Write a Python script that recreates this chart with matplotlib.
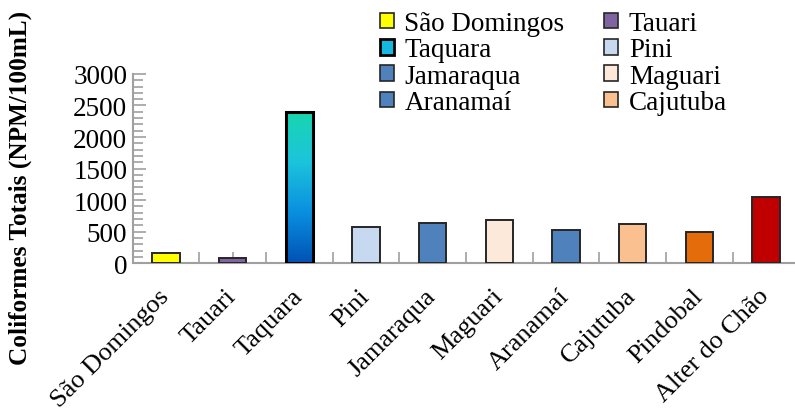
import numpy as np
import matplotlib
matplotlib.use("Agg")
import matplotlib.pyplot as plt
from matplotlib.patches import Rectangle
from matplotlib.colors import LinearSegmentedColormap
from matplotlib.ticker import MultipleLocator

plt.rcParams['font.family'] = ['Liberation Serif', 'DejaVu Serif']

sites = ["São Domingos", "Tauari", "Taquara", "Pini", "Jamaraqua",
         "Maguari", "Aranamaí", "Cajutuba", "Pindobal", "Alter do Chão"]
coliforms = [160, 80, 2400, 580, 640, 685, 520, 620, 500, 1045]
bar_colors = ["#ffff00", "#8064a2", "#0a8fe0", "#c6d9f1", "#4f81bd",
              "#fde9d9", "#4f81bd", "#fac090", "#e46c0a", "#c00000"]
legend_sites = ["São Domingos", "Taquara", "Jamaraqua", "Aranamaí",
                "Tauari", "Pini", "Maguari", "Cajutuba"]

gradient = LinearSegmentedColormap.from_list(
    "taquara", ["#0052b4", "#0a8fe0", "#1cc4dc", "#18d6ae"])

fig = plt.figure(figsize=(7.95, 4.14), dpi=100)
ax = fig.add_axes([0.167, 0.362, 0.84, 0.457])

x = np.arange(len(sites))
width = 0.41
bars = ax.bar(x, coliforms, width=width, color=bar_colors,
              edgecolor="#262626", linewidth=1.4, zorder=3)

# Taquara bar: vertical gradient fill with a heavy black outline
tq = bars[2]
tq.set_facecolor("none")
tq.set_edgecolor("black")
tq.set_linewidth(2.2)
tq.set_zorder(4)
grad = np.linspace(0, 1, 256).reshape(-1, 1)
img = ax.imshow(grad, cmap=gradient, origin="lower", aspect="auto",
                extent=[tq.get_x(), tq.get_x() + tq.get_width(), 0, tq.get_height()],
                zorder=3)
img.set_clip_path(tq)

ax.set_xlim(-0.5, 9.52)
ax.set_ylim(0, 3000)

ax.yaxis.set_major_locator(MultipleLocator(500))
ax.yaxis.set_minor_locator(MultipleLocator(100))
ax.set_xticks(x)
ax.set_xticks(np.arange(-0.5, 10, 1.0), minor=True)
ax.set_xticklabels(sites, rotation=45, ha="right", va="center",
                   rotation_mode="anchor", fontsize=19)

ax.tick_params(axis="y", which="both", direction="in", color="#a0a0a0",
               width=1.2, labelsize=19.5, pad=4)
ax.tick_params(axis="y", which="major", length=9)
ax.tick_params(axis="y", which="minor", length=7)
ax.tick_params(axis="x", which="both", direction="in", color="#a0a0a0",
               width=1.2, length=8, pad=21)

for side in ("top", "right"):
    ax.spines[side].set_visible(False)
for side in ("left", "bottom"):
    ax.spines[side].set_color("#a0a0a0")
    ax.spines[side].set_linewidth(1.5)

fig.text(0.026, 0.546, "Coliformes Totais (NPM/100mL)", rotation=90,
         ha="center", va="center", fontsize=18.2, fontweight="bold")

# Legend handles in column order
handles = []
for name in legend_sites:
    i = sites.index(name)
    if name == "Taquara":
        h = Rectangle((0, 0), 1, 1, facecolor="#14b8e0", edgecolor="black",
                      linewidth=2.0)
    else:
        h = Rectangle((0, 0), 1, 1, facecolor=bar_colors[i],
                      edgecolor="#262626", linewidth=1.2)
    handles.append(h)

fig.legend(handles, legend_sites, ncol=2, loc="upper left",
           bbox_to_anchor=(0.457, 1.01), frameon=False, fontsize=19.5,
           handlelength=0.52, handleheight=0.52, handletextpad=0.4,
           columnspacing=1.45, labelspacing=0.05, borderaxespad=0.2)

fig.savefig("out.png", dpi=100)
